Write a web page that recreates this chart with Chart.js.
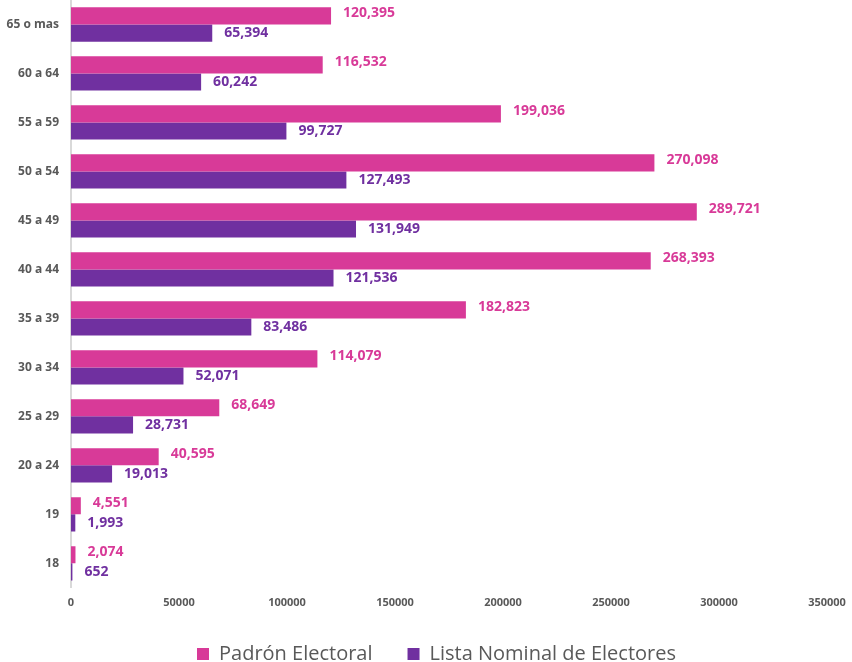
<!DOCTYPE html>
<html>
<head>
<meta charset="utf-8">
<script src="https://cdn.jsdelivr.net/npm/chart.js@4/dist/chart.umd.min.js"></script>
<style>
  html, body { margin: 0; padding: 0; background: #fff; }
  #wrap { position: relative; width: 852px; height: 662px; }
</style>
</head>
<body>
<div id="wrap"><canvas id="chart"></canvas></div>
<script>
// age groups, top to bottom
const categories = ['65 o mas', '60 a 64', '55 a 59', '50 a 54', '45 a 49', '40 a 44',
                    '35 a 39', '30 a 34', '25 a 29', '20 a 24', '19', '18'];
const padron = [120395, 116532, 199036, 270098, 289721, 268393, 182823, 114079, 68649, 40595, 4551, 2074];
const lista = [65394, 60242, 99727, 127493, 131949, 121536, 83486, 52071, 28731, 19013, 1993, 652];
const xTicks = [0, 50000, 100000, 150000, 200000, 250000, 300000, 350000];

const PINK = '#D83A98';
const PURPLE = '#7030A0';
const GREY = '#595959';
const FONT = '"Open Sans", "DejaVu Sans", sans-serif';

// value labels drawn at the end of every bar
const barLabels = {
    id: 'barLabels',
    afterDatasetsDraw(chart) {
        const ctx = chart.ctx;
        ctx.save();
        ctx.font = 'bold 14px ' + FONT;
        ctx.textAlign = 'left';
        ctx.textBaseline = 'middle';
        chart.data.datasets.forEach((ds, i) => {
            const meta = chart.getDatasetMeta(i);
            ctx.fillStyle = ds.labelColor;
            meta.data.forEach((bar, j) => {
                const txt = ds.data[j].toLocaleString('en-US');
                ctx.fillText(txt, bar.x + 12, bar.y + (i === 0 ? -3 : 0));
            });
        });
        ctx.restore();
    }
};

// legend: fixed height and nudged, like the original layout
const legendPlace = {
    id: 'legendPlace',
    beforeLayout(chart) {
        const lg = chart.legend;
        if (lg && !lg._patched) {
            lg._patched = true;
            const fit = lg.fit;
            lg.fit = function () { fit.call(this); this.height = 45; };
        }
    },
    afterLayout(chart) {
        const lg = chart.legend;
        if (lg) {
            lg.left += 23;
            lg.right += 23;
            lg.top -= 8;
            lg.bottom = lg.top + 70;   // keep the clip box tall enough for the text
        }
    }
};

new Chart(document.getElementById('chart'), {
    type: 'bar',
    data: {
        labels: categories,
        datasets: [
            { label: 'Padrón Electoral', data: padron, backgroundColor: PINK, labelColor: PINK },
            { label: 'Lista Nominal de Electores', data: lista, backgroundColor: PURPLE, labelColor: PURPLE }
        ]
    },
    options: {
        indexAxis: 'y',
        responsive: true,
        maintainAspectRatio: false,
        animation: false,
        datasets: { bar: { categoryPercentage: 0.7, barPercentage: 1.0 } },
        layout: { padding: { top: 0, right: 25, left: 0, bottom: 0 } },
        plugins: {
            tooltip: { enabled: false },
            legend: {
                position: 'bottom',
                labels: {
                    color: GREY,
                    font: { family: FONT, size: 20 },
                    boxWidth: 12,
                    boxHeight: 12,
                    padding: 35
                }
            }
        },
        scales: {
            x: {
                min: 0,
                max: 350000,
                grid: { display: false, drawTicks: false },
                border: { display: false },
                afterBuildTicks: (scale) => { scale.ticks = xTicks.map(v => ({ value: v })); },
                afterFit: (scale) => { scale.paddingLeft = 0; scale.paddingRight = 0; },
                ticks: {
                    color: GREY,
                    font: { family: FONT, size: 11, weight: 'bold' },
                    padding: 8,
                    maxRotation: 0,
                    callback: (v) => String(v)
                }
            },
            y: {
                grid: { display: false, drawTicks: false },
                border: { display: true, color: '#D9D9D9', width: 2 },
                afterFit: (scale) => {
                    scale.width = 71;
                    scale.paddingTop = 0;
                    scale.paddingBottom = 0;
                },
                ticks: {
                    color: GREY,
                    font: { family: FONT, size: 12, weight: 'bold' },
                    padding: 12
                }
            }
        }
    },
    plugins: [barLabels, legendPlace]
});
</script>
</body>
</html>
